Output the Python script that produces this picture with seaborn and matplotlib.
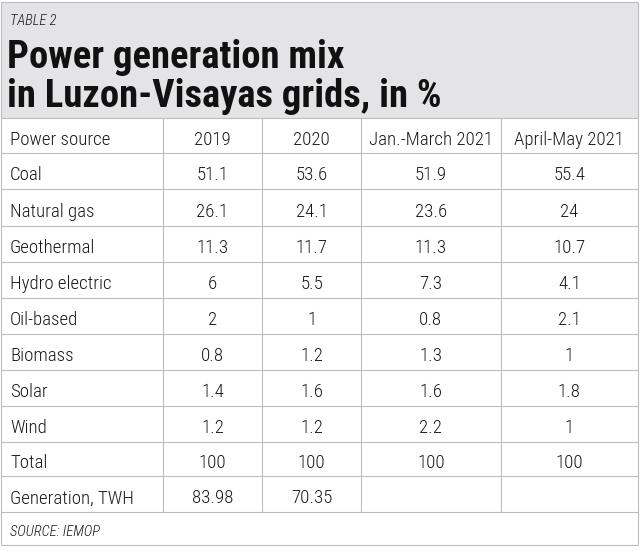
import matplotlib
matplotlib.use("Agg")
import matplotlib.pyplot as plt
import seaborn as sns

# table data
columns = ["Power source", "2019", "2020", "Jan.-March 2021", "April-May 2021"]
sources = ["Coal", "Natural gas", "Geothermal", "Hydro electric", "Oil-based",
           "Biomass", "Solar", "Wind", "Total", "Generation, TWH"]
v2019 = ["51.1", "26.1", "11.3", "6", "2", "0.8", "1.4", "1.2", "100", "83.98"]
v2020 = ["53.6", "24.1", "11.7", "5.5", "1", "1.2", "1.6", "1.2", "100", "70.35"]
v2021_q1 = ["51.9", "23.6", "11.3", "7.3", "0.8", "1.3", "1.6", "2.2", "100", ""]
v2021_am = ["55.4", "24", "10.7", "4.1", "2.1", "1", "1.8", "1", "100", ""]

label = "TABLE 2"
title = "Power generation mix\nin Luzon-Visayas grids, in %"
source_note = "SOURCE: IEMOP"

sns.set_theme(style="white")
plt.rcParams["font.family"] = ["Roboto Condensed", "DejaVu Sans"]

W, H = 640, 551
fig = plt.figure(figsize=(W / 100, H / 100), dpi=100)
ax = fig.add_axes([0, 0, 1, 1])
ax.set_xlim(0, W)
ax.set_ylim(H, 0)
ax.axis("off")

# layout (pixels)
col_edges = [1, 162.7, 262.3, 361, 500.7, 638]
row_edges = [118, 153, 189, 226, 262, 298, 334, 370, 406, 442, 476, 512, 545]
top = 2
line_col = "#bdbdbd"
text_col = "#1a1a1a"

# grey header band
ax.add_patch(plt.Rectangle((col_edges[0], top), col_edges[-1] - col_edges[0],
                           row_edges[0] - top, facecolor="#e4e4e6", edgecolor="none"))

# grid
ax.hlines([top] + row_edges, col_edges[0], col_edges[-1], color=line_col, lw=0.8)
ax.vlines([col_edges[0], col_edges[-1]], top, row_edges[-1], color=line_col, lw=0.8)
ax.vlines(col_edges[1:-1], row_edges[0], row_edges[-2], color=line_col, lw=0.8)

# header texts
ax.text(10, 25, label, fontsize=10.5, style="italic", fontweight=300, color=text_col)
ax.text(7, 107, title, fontsize=27.8, fontweight="bold", color="#111111",
        linespacing=1.08, va="baseline")

# table body
table = [columns] + [list(r) for r in zip(sources, v2019, v2020, v2021_q1, v2021_am)]
for i, row in enumerate(table):
    y = row_edges[i] + 0.76 * (row_edges[i + 1] - row_edges[i])
    for j, cell in enumerate(row):
        if j == 0:
            ax.text(10, y, cell, fontsize=13.6, fontweight=300, color=text_col, va="baseline")
        else:
            xc = (col_edges[j] + col_edges[j + 1]) / 2
            ax.text(xc, y, cell, fontsize=13.6, fontweight=300, color=text_col,
                    ha="center", va="baseline")

ys = row_edges[-2] + 0.72 * (row_edges[-1] - row_edges[-2])
ax.text(10, ys, source_note, fontsize=10.5, style="italic", fontweight=300, color=text_col,
        va="baseline")

fig.savefig("out.png", dpi=100, facecolor="white")
